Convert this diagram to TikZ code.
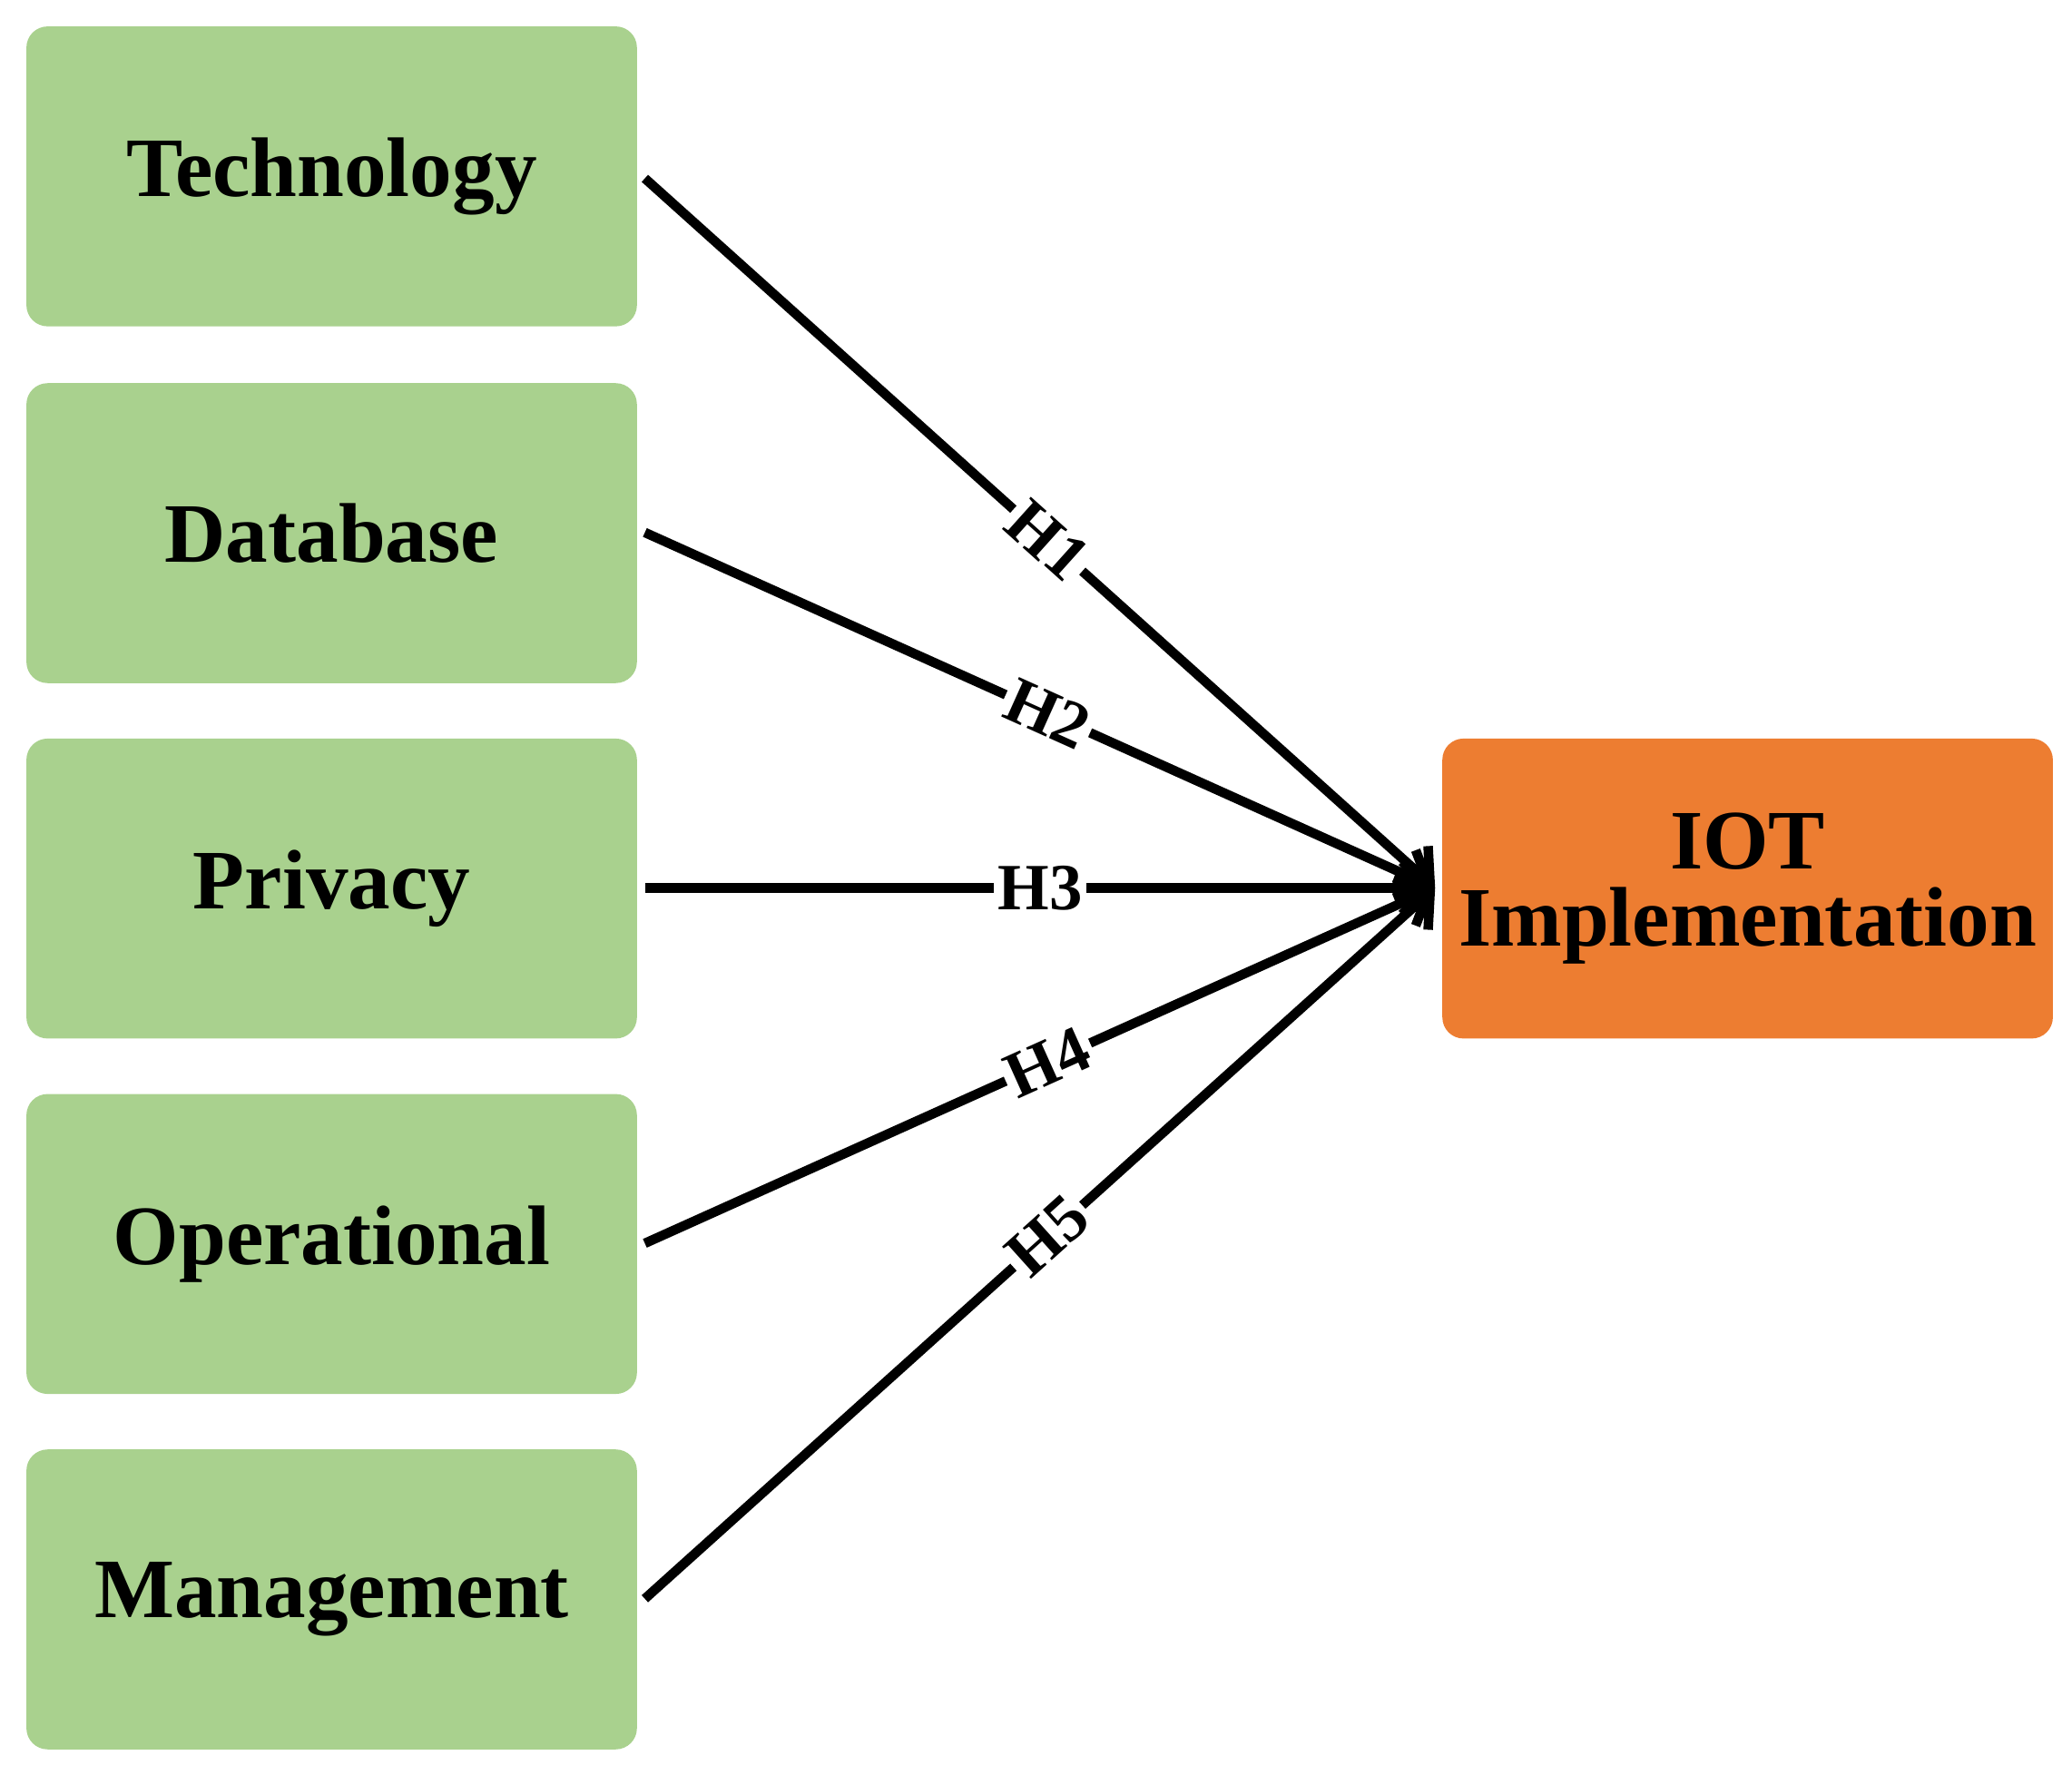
\documentclass[tikz,border=0pt]{standalone}
\usepackage{fontspec}
\setmainfont{Liberation Serif}
\usetikzlibrary{arrows.meta}
\definecolor{gr}{HTML}{A9D18E}
\definecolor{orn}{HTML}{ED7D31}
\begin{document}
\begin{tikzpicture}[x=0.5pt,y=-0.5pt,
 box/.style={draw=none,rounded corners=8pt,minimum width=231pt,minimum height=113.5pt,font=\fontsize{32}{35}\selectfont\bfseries,align=center},
 arr/.style={line width=3.6pt,-{Straight Barb[length=10pt,width=20pt,line width=3.6pt]}},
 lab/.style={fill=white,inner sep=1.5pt,font=\fontsize{25}{27}\selectfont\bfseries,sloped}]
\useasboundingbox (0,0) rectangle (1568,1343);
\node[box,fill=gr] (t) at (251,133.5) {Technology};
\node[box,fill=gr] (d) at (251,403.5) {Database};
\node[box,fill=gr] (p) at (251,672.5) {Privacy};
\node[box,fill=gr] (o) at (251,941.5) {Operational};
\node[box,fill=gr] (m) at (251,1210.5) {Management};
\node[box,fill=orn] (iot) at (1322.5,672.5) {IOT\\[-6pt]Implementation};
\coordinate (e) at (1086,672);
\draw[arr] (488,135) -- node[lab,pos=0.51]{H1} (e);
\draw[arr] (488,403) -- node[lab,pos=0.51]{H2} (e);
\draw[arr] (488,672) -- node[lab,pos=0.5]{H3} (e);
\draw[arr] (488,941) -- node[lab,pos=0.51]{H4} (e);
\draw[arr] (488,1210) -- node[lab,pos=0.51]{H5} (e);
\end{tikzpicture}
\end{document}
